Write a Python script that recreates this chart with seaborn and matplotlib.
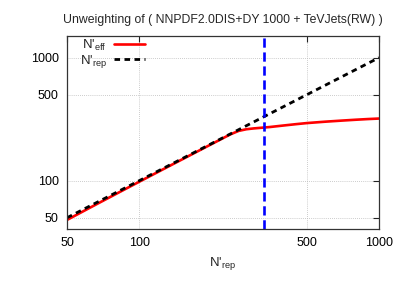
import matplotlib
matplotlib.use("Agg")
import matplotlib.pyplot as plt
import seaborn as sns
import numpy as np
import pandas as pd
from matplotlib.ticker import FixedLocator, FixedFormatter, NullLocator

# ---- data ----
n_rep = [50, 60, 70, 80, 90, 100, 120, 140, 160, 180, 200, 220, 240, 260,
         280, 300, 350, 400, 450, 500, 600, 700, 800, 900, 1000]
n_eff = [48, 58, 68, 78, 88, 98, 118, 138, 158, 178, 198, 218, 238, 254,
         262, 266, 273, 281, 288, 294, 302, 308, 313, 317, 320]
vline_x = [332]
x_ticks = [50, 100, 500, 1000]
y_ticks = [50, 100, 500, 1000]
title = "Unweighting of ( NNPDF2.0DIS+DY 1000 + TeVJets(RW) )"

sns.set_theme(style="white")
plt.rcParams['font.family'] = ['Liberation Sans', 'DejaVu Sans']
plt.rcParams['mathtext.fontset'] = 'custom'
plt.rcParams['mathtext.rm'] = 'Liberation Sans'
plt.rcParams['mathtext.it'] = 'Liberation Sans'

df = pd.DataFrame({"n_rep": n_rep, "n_eff": n_eff})

fig = plt.figure(figsize=(4.01, 2.81), dpi=100)
ax = fig.add_axes([67/401, 1-229/281, (379-67)/401, (229-36)/281])

sns.lineplot(data=df, x="n_rep", y="n_eff", ax=ax, color="#ff0000", lw=1.9,
             label=r"N'$_{\mathrm{eff}}$")
sns.lineplot(data=df, x="n_rep", y="n_rep", ax=ax, color="black", lw=2.0,
             dashes=False, label=r"N'$_{\mathrm{rep}}$")
ax.lines[-1].set_dashes((2, 1.6))
for v in vline_x:
    ax.axvline(v, color="#0000ff", lw=1.9, dashes=(3.5, 1.8))

ax.set_xscale("log")
ax.set_yscale("log")
ax.set_xlim(50, 1000)
ax.set_ylim(40.5, 1500)

ax.xaxis.set_major_locator(FixedLocator(x_ticks))
ax.xaxis.set_major_formatter(FixedFormatter([str(t) for t in x_ticks]))
ax.xaxis.set_minor_locator(NullLocator())
ax.yaxis.set_major_locator(FixedLocator(y_ticks))
ax.yaxis.set_major_formatter(FixedFormatter([str(t) for t in y_ticks]))
ax.yaxis.set_minor_locator(NullLocator())

ax.grid(True, which="major", color="#bbbbbb", linestyle=(0, (1, 1.5)), lw=0.6)
ax.tick_params(axis="both", which="major", direction="in", length=4,
               width=0.8, labelsize=9, top=True, right=True, pad=6,
               colors="#222222", labelcolor="black")
for s in ax.spines.values():
    s.set_color("#333333")
    s.set_linewidth(0.9)

ax.set_xlabel(r"N'$_{\mathrm{rep}}$", fontsize=9.5, labelpad=4)
ax.set_ylabel("")
ax.set_title(title, fontsize=8.8, pad=9)

leg = ax.legend(loc="upper left", markerfirst=False, frameon=False,
                fontsize=9.5, handlelength=2.4, labelspacing=0.02,
                borderaxespad=0.1, handletextpad=0.5,
                bbox_to_anchor=(0.02, 1.025))
for t in leg.get_texts():
    t.set_ha("right")

fig.savefig("out.png", dpi=100)
